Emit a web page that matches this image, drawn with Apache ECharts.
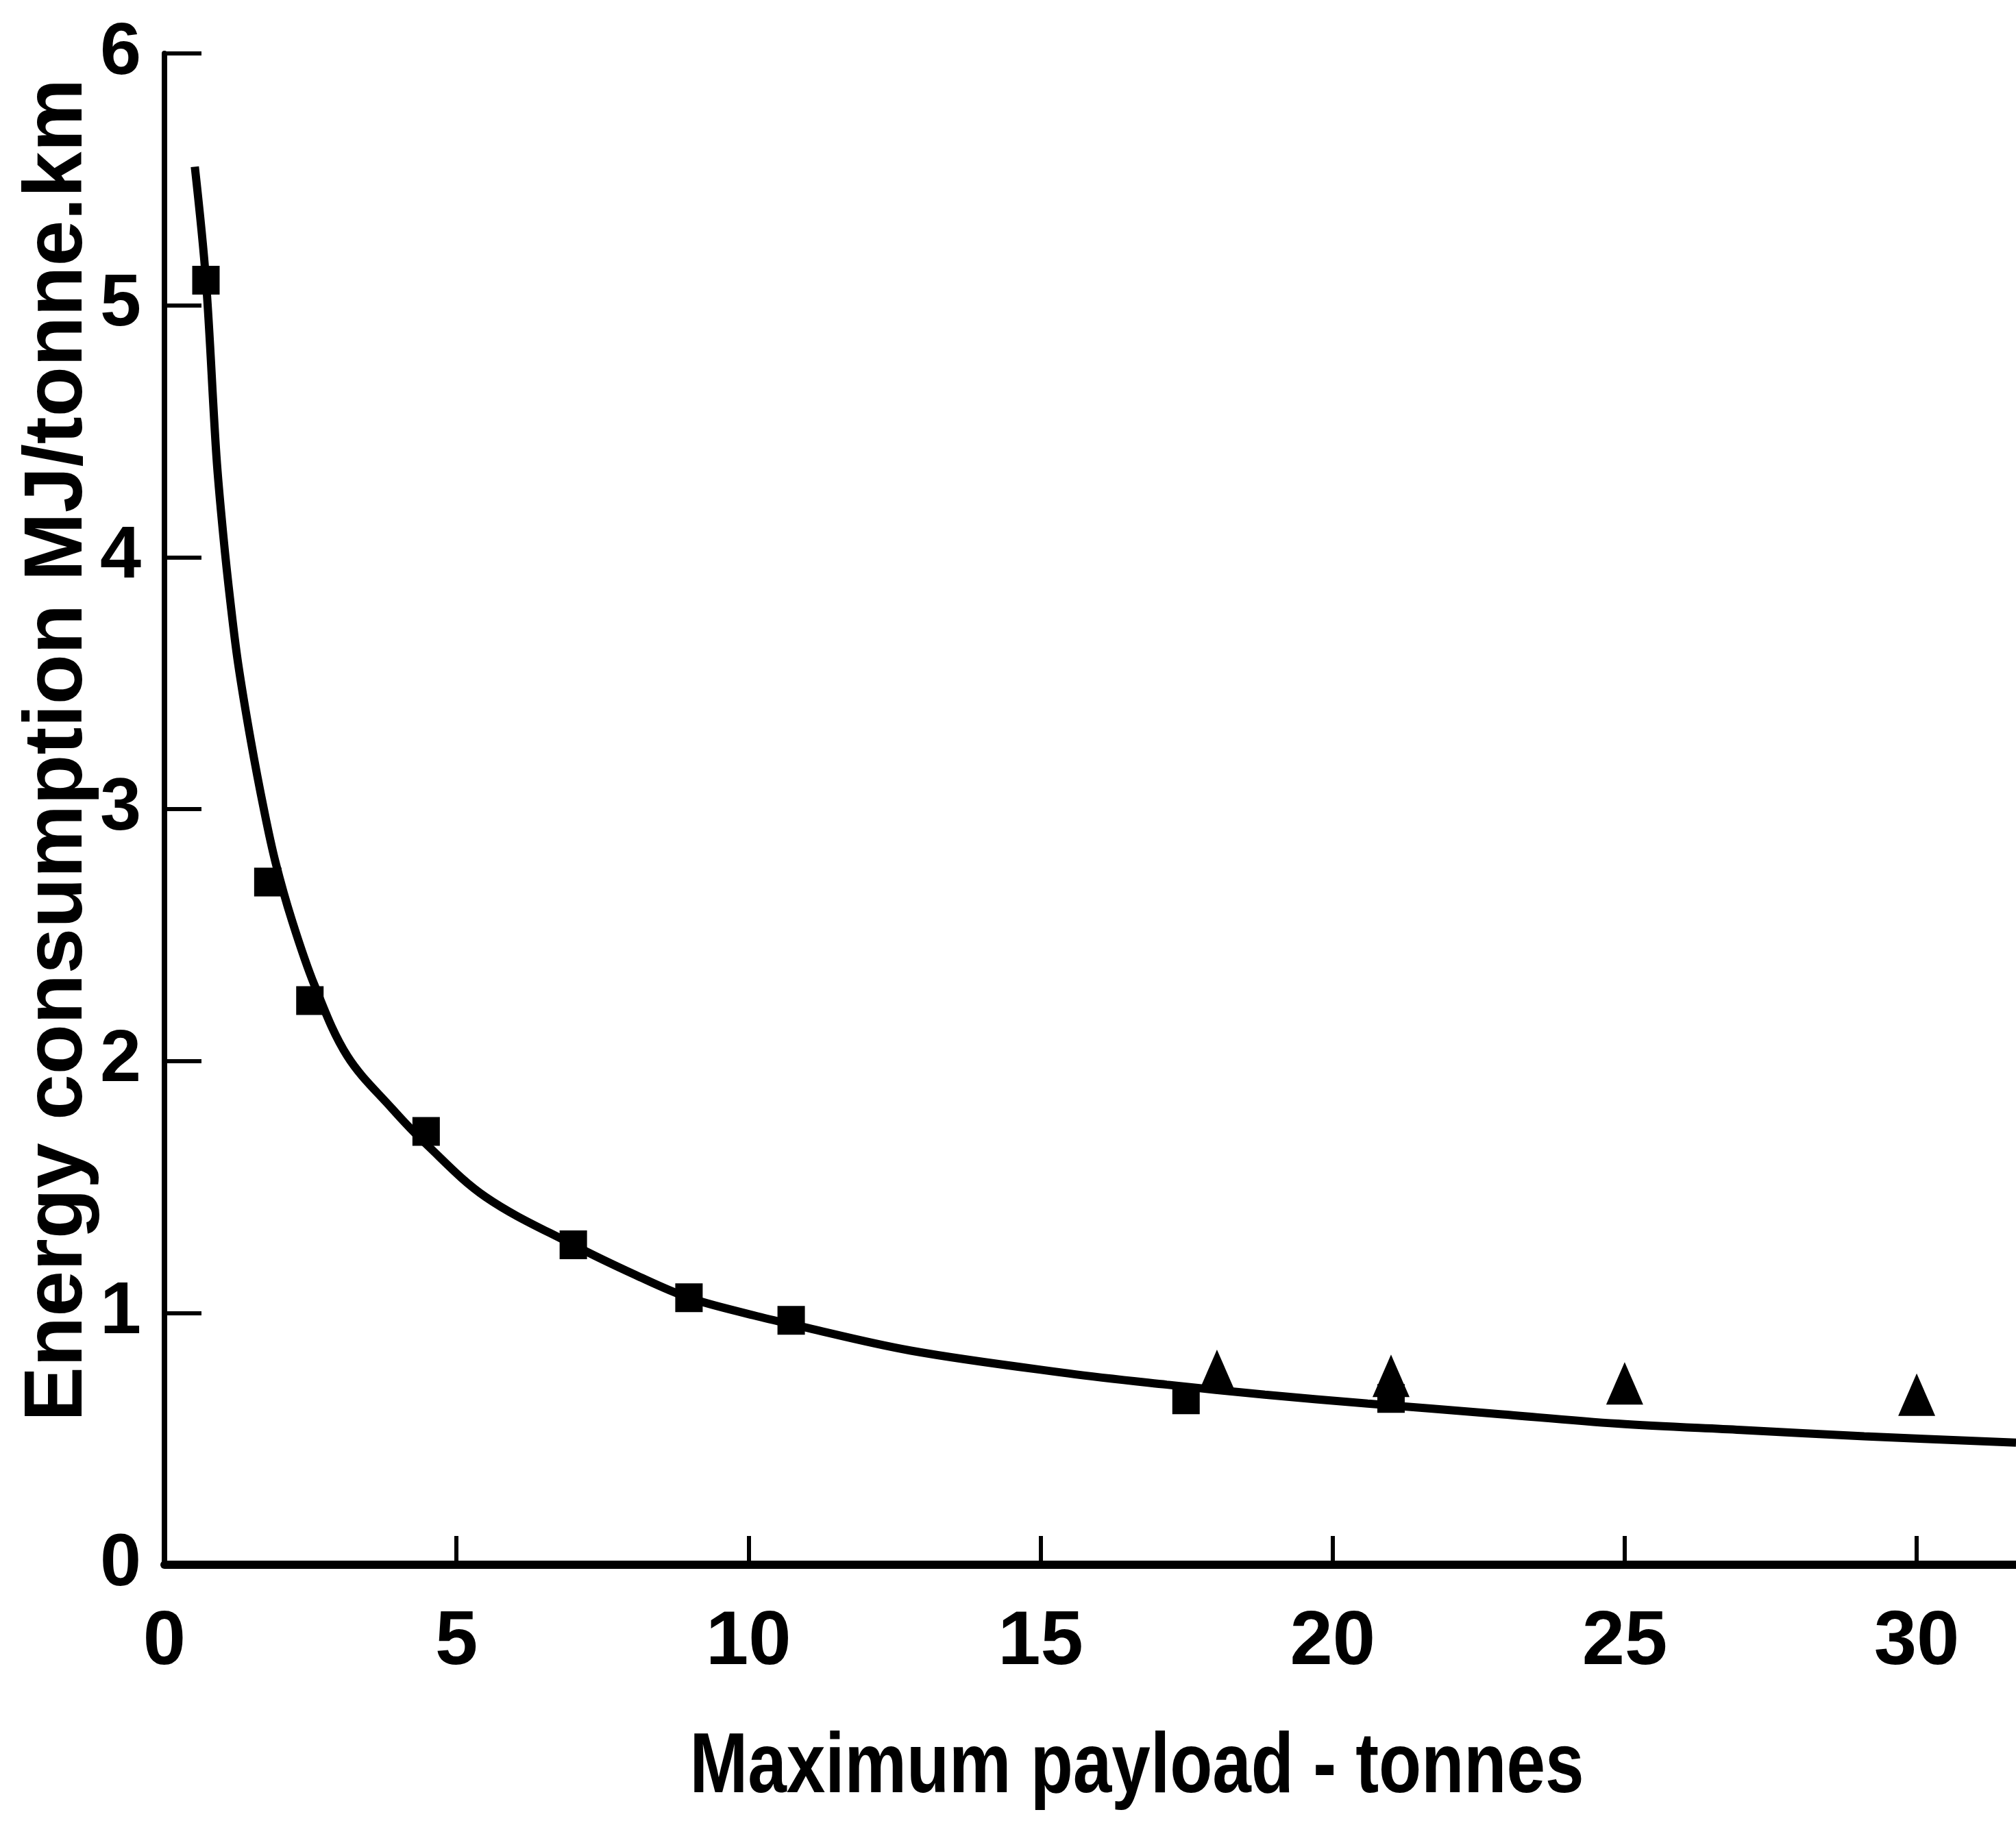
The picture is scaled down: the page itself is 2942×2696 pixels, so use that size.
<!DOCTYPE html>
<html>
<head>
<meta charset="utf-8">
<script src="https://cdn.jsdelivr.net/npm/echarts@6/dist/echarts.min.js"></script>
<style>
html,body{margin:0;padding:0;background:#fff;}
#c{width:2942px;height:2696px;}
</style>
</head>
<body>
<div id="c"></div>
<script>
// Data
var xTitle = 'Maximum payload - tonnes';
var yTitle = 'Energy consumption MJ/tonne.km';
var curveX = [0.52, 0.71, 0.89, 1.01, 1.13, 1.26, 1.48, 1.71, 1.90, 2.18, 2.57, 3.13, 3.90, 4.48, 5.5, 7.0, 8.07, 8.98, 10.09, 10.73, 12.78, 15.47, 17.16, 18.84, 20.6, 22.76, 24.88, 26.99, 29.1, 31.7];
var curveY = [5.55, 5.10, 4.40, 4.08, 3.82, 3.58, 3.27, 2.99, 2.79, 2.56, 2.30, 2.02, 1.81, 1.67, 1.46, 1.27, 1.15, 1.06, 0.99, 0.955, 0.85, 0.76, 0.715, 0.675, 0.64, 0.60, 0.56, 0.535, 0.51, 0.485];
var squareX = [0.71, 1.77, 2.49, 4.48, 7.0, 8.98, 10.73, 17.49, 21.0];
var squareY = [5.10, 2.71, 2.24, 1.72, 1.27, 1.06, 0.97, 0.655, 0.66];
var triangleX = [18.02, 21.0, 25.0, 30.0];
var triangleY = [0.77, 0.75, 0.72, 0.675];

function zip(a, b) { return a.map(function (v, i) { return [v, b[i]]; }); }

var font = "'Liberation Sans', Arial, Helvetica, sans-serif";

var chart = echarts.init(document.getElementById('c'), null, {renderer: 'canvas'});
chart.setOption({
  backgroundColor: '#ffffff',
  animation: false,
  grid: {left: 240, right: 0, top: 78, bottom: 412, containLabel: false},
  xAxis: {
    type: 'value', min: 0, max: 31.7, interval: 5,
    axisLine: {lineStyle: {color: '#000', width: 12}},
    axisTick: {inside: true, length: 42, lineStyle: {color: '#000', width: 6}},
    splitLine: {show: false},
    axisLabel: {
      showMaxLabel: false, margin: 58, color: '#000',
      fontFamily: font, fontWeight: 'bold', fontSize: 112,
      formatter: function (v) { return (Math.abs(v % 5) < 1e-9) ? String(v) : ''; }
    }
  },
  yAxis: {
    type: 'value', min: 0, max: 6, interval: 1,
    axisLine: {lineStyle: {color: '#000', width: 8}},
    axisTick: {inside: true, length: 54, lineStyle: {color: '#000', width: 6}},
    splitLine: {show: false},
    axisLabel: {
      margin: 34, color: '#000',
      fontFamily: font, fontWeight: 'bold', fontSize: 108
    }
  },
  graphic: [
    {type: 'text', silent: true, z: 10, x: 1659, y: 2582, scaleX: 0.82,
     style: {text: xTitle, x: 0, y: 0, textAlign: 'center', textVerticalAlign: 'middle',
             fill: '#000', font: 'bold 124px ' + font}},
    {type: 'text', silent: true, z: 10, x: 86, y: 1095, rotation: Math.PI / 2,
     style: {text: yTitle, x: 0, y: 0, textAlign: 'center', textVerticalAlign: 'middle',
             fill: '#000', font: 'bold 120px ' + font}}
  ],
  series: [
    {type: 'line', data: zip(curveX, curveY), smooth: 0.35,
     showSymbol: false, symbol: 'none', lineStyle: {color: '#000', width: 12}, z: 2},
    {type: 'scatter', data: zip(squareX, squareY), symbol: 'rect', symbolSize: [40, 42],
     itemStyle: {color: '#000', opacity: 1}, z: 3},
    {type: 'scatter', data: zip(triangleX, triangleY), symbol: 'triangle', symbolSize: [54, 62],
     itemStyle: {color: '#000', opacity: 1}, z: 4}
  ]
});
</script>
</body>
</html>
